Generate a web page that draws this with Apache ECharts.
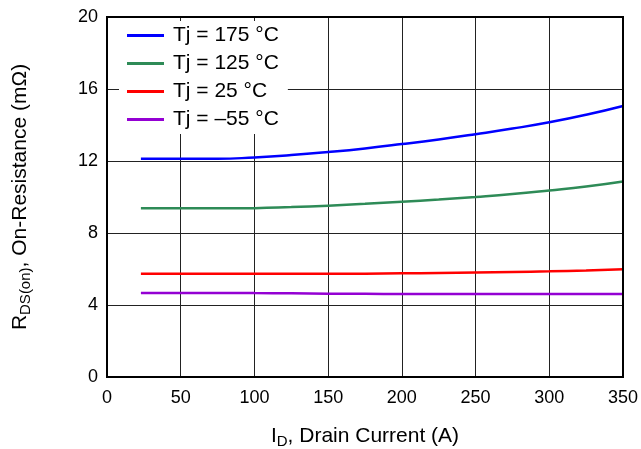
<!DOCTYPE html>
<html><head><meta charset="utf-8">
<script src="https://cdn.jsdelivr.net/npm/echarts@6/dist/echarts.min.js"></script>
<style>html,body{margin:0;padding:0;background:#fff}#c{width:641px;height:449px}</style>
</head><body><div id="c"></div>
<script>
const current = [23, 50, 75, 100, 125, 150, 175, 200, 225, 250, 275, 300, 325, 350];
const r175 = [12.13, 12.13, 12.12, 12.2, 12.33, 12.5, 12.7, 12.94, 13.2, 13.49, 13.8, 14.15, 14.57, 15.06];
const r125 = [9.37, 9.37, 9.37, 9.38, 9.44, 9.52, 9.62, 9.74, 9.86, 10.0, 10.16, 10.36, 10.58, 10.86];
const r25 = [5.73, 5.73, 5.73, 5.73, 5.73, 5.73, 5.74, 5.76, 5.78, 5.80, 5.83, 5.87, 5.92, 5.98];
const rm55 = [4.67, 4.67, 4.67, 4.66, 4.65, 4.63, 4.62, 4.61, 4.61, 4.61, 4.61, 4.61, 4.61, 4.61];
const seriesNames = ['Tj = 175 °C', 'Tj = 125 °C', 'Tj = 25 °C', 'Tj = \u201355 °C'];
const seriesColors = ['#0000ff', '#2e8b57', '#ff0000', '#9400d3'];
const seriesData = [r175, r125, r25, rm55];

const font = '"Liberation Sans", Arial, sans-serif';
const chart = echarts.init(document.getElementById('c'), null, {renderer: 'canvas'});
chart.setOption({
  animation: false,
  backgroundColor: '#fff',
  grid: {left: 107, right: 18, top: 17, bottom: 72, show: true, borderColor: '#000', borderWidth: 2, z: 3,
         containLabel: false, outerBoundsMode: 'none'},
  legend: {
    orient: 'vertical', left: 119, top: 21,
    backgroundColor: '#fff', padding: [4, 9, 4, 8],
    itemWidth: 37, itemHeight: 3, itemGap: 7, icon: 'rect',
    textStyle: {fontFamily: font, fontSize: 21, color: '#000', padding: [0, 0, 0, 4]},
    data: seriesNames
  },
  xAxis: {
    type: 'value', min: 0, max: 350, interval: 50,
    name: 'I{sub|D}, Drain Current (A)', nameLocation: 'middle', nameGap: 47, nameMoveOverlap: false,
    nameTextStyle: {fontFamily: font, fontSize: 21, color: '#000',
      rich: {sub: {fontFamily: font, fontSize: 15, color: '#000', padding: [10, 0, 0, 0]}}},
    axisLine: {show: false}, axisTick: {show: false},
    axisLabel: {fontFamily: font, fontSize: 18, color: '#000', margin: 12},
    splitLine: {show: true, lineStyle: {color: '#222', width: 1}}
  },
  yAxis: {
    type: 'value', min: 0, max: 20, interval: 4,
    name: 'R{sub|DS(on)}, On-Resistance (mΩ)', nameLocation: 'middle', nameGap: 74, nameMoveOverlap: false,
    nameTextStyle: {fontFamily: font, fontSize: 21, color: '#000',
      rich: {sub: {fontFamily: font, fontSize: 15, color: '#000', padding: [10, 0, 0, 0]}}},
    axisLine: {show: false}, axisTick: {show: false},
    axisLabel: {fontFamily: font, fontSize: 18, color: '#000', margin: 9},
    splitLine: {show: true, lineStyle: {color: '#222', width: 1}}
  },
  series: seriesNames.map((n, i) => ({
    name: n, type: 'line', smooth: true, symbol: 'none', z: 2,
    data: current.map((x, j) => [x, seriesData[i][j]]),
    lineStyle: {color: seriesColors[i], width: 2.5},
    itemStyle: {color: seriesColors[i]}
  }))
});
</script></body></html>
